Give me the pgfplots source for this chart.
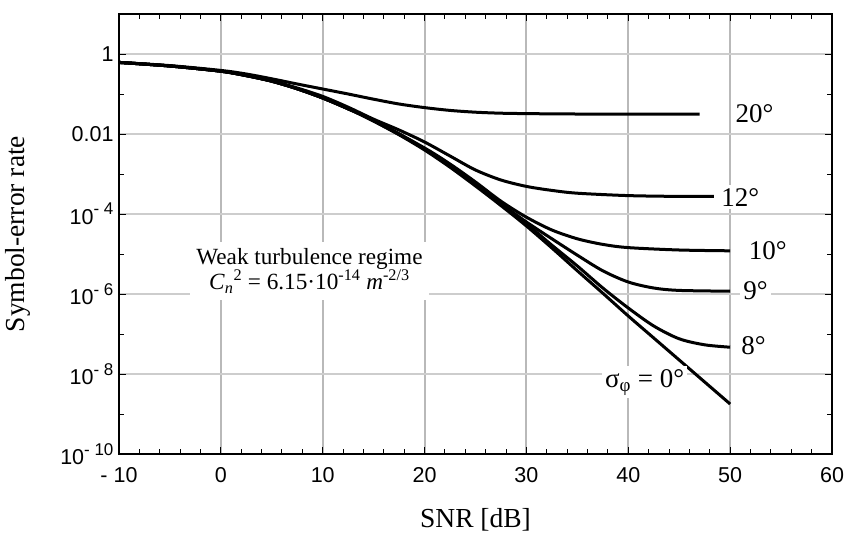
\documentclass[border=0pt]{standalone}
\usepackage{pgfplots}
\pgfplotsset{compat=1.18}
\usepackage{fontspec}
\setmainfont{Liberation Serif}
\setsansfont{Liberation Sans}

\definecolor{vgrid}{RGB}{185,185,185}
\definecolor{hgrid}{RGB}{205,205,205}

\newcommand{\tenexp}[1]{10\raisebox{0.45em}{\fontsize{17}{17}\selectfont #1}}

\begin{document}
\begin{tikzpicture}
\begin{axis}[
    scale only axis,
    width=713pt, height=440pt,
    xmin=-10, xmax=60,
    ymode=log, ymin=1e-10, ymax=10,
    xtick={-10,0,10,20,30,40,50,60},
    xticklabels={- 10,0,10,20,30,40,50,60},
    minor x tick num=4,
    ytick={1e-10,1e-8,1e-6,1e-4,1e-2,1},
    yticklabels={\tenexp{- 10},\tenexp{- 8},\tenexp{- 6},\tenexp{- 4},0.01,1},
    minor ytick={1e-9,1e-7,1e-5,1e-3,1e-1,10},
    tick label style={font=\sffamily\fontsize{21.5}{25}\selectfont},
    xticklabel style={yshift=-10pt},
    yticklabel style={xshift=-2pt},
    major tick length=7pt, minor tick length=5pt,
    tick style={black, line width=1pt},
    axis line style={line width=1.5pt},
    xmajorgrids, ymajorgrids,
    x grid style={vgrid, line width=2pt},
    y grid style={hgrid, line width=1.2pt},
    xlabel={SNR [dB]},
    ylabel={Symbol-error rate},
    label style={font=\fontsize{27.5}{30}\selectfont},
    xlabel style={at={(axis description cs:0.5,-0.15)}, anchor=center},
    ylabel style={at={(axis description cs:-0.142,0.5)}, anchor=center},
    curve/.style={black, line width=3pt, smooth, tension=0.5, mark=none},
]

% sigma = 0
\addplot[curve] coordinates {
(-10,0.6166) (-5,0.5012) (0,0.3715) (2.5,0.2884) (5,0.2089) (7.5,0.1349)
(10,0.07943) (12.5,0.04266) (15,0.02089) (17.5,0.00955) (20,0.003981)
(22.5,1.479e-3) (25,5.012e-4) (27.5,1.622e-4) (30,5.012e-5) (32.5,1.413e-5)
(35,3.802e-6) (37.5,1.047e-6) (40,2.818e-7) (42.5,7.943e-8) (45,2.239e-8)
(47.5,6.31e-9) (50,1.778e-9)
};

% 20 deg
\addplot[curve] coordinates {
(-10,0.6166) (-5,0.5129) (0,0.3890) (2.5,0.3162) (5,0.2399) (7.5,0.1778)
(10,0.1334) (12.5,0.1) (15,0.07413) (17.5,0.05623) (20,0.04571)
(22.5,0.0389) (25,0.03508) (27.5,0.03311) (30,0.03236) (35,0.03162) (47,0.03162)
};

% 12 deg
\addplot[curve] coordinates {
(-10,0.6166) (-5,0.5012) (0,0.3715) (2.5,0.2884) (5,0.2138) (7.5,0.1413)
(10,0.0871) (12.5,0.04677) (15,0.02344) (17.5,0.01259) (20,6.31e-3)
(22.5,2.818e-3) (25,1.259e-3) (27.5,7.079e-4) (30,4.898e-4) (32.5,3.89e-4)
(35,3.311e-4) (40,2.884e-4) (45,2.754e-4) (48.4,2.754e-4)
};

% 10 deg
\addplot[curve] coordinates {
(-10,0.6166) (-5,0.5012) (0,0.3715) (2.5,0.2884) (5,0.2089) (7.5,0.1349)
(10,0.07943) (12.5,0.04266) (15,0.02239) (20,4.467e-3) (22.5,1.778e-3)
(25,6.31e-4) (27.5,2.089e-4) (30,8.318e-5) (32.5,3.981e-5) (35,2.399e-5)
(37.5,1.738e-5) (40,1.445e-5) (45,1.259e-5) (50,1.202e-5)
};

% 9 deg
\addplot[curve] coordinates {
(-10,0.6166) (-5,0.5012) (0,0.3715) (2.5,0.2884) (5,0.2089) (7.5,0.1349)
(10,0.07943) (12.5,0.04266) (15,0.02188) (20,4.266e-3) (25,5.623e-4)
(27.5,1.820e-4) (30,6.31e-5) (32.5,2.399e-5) (35,9.333e-6) (37.5,3.802e-6)
(40,1.995e-6) (42.5,1.413e-6) (45,1.230e-6) (50,1.175e-6)
};

% 8 deg
\addplot[curve] coordinates {
(-10,0.6166) (-5,0.5012) (0,0.3715) (2.5,0.2884) (5,0.2089) (7.5,0.1349)
(10,0.07943) (12.5,0.04266) (15,0.02138) (20,4.169e-3) (25,5.248e-4)
(30,5.623e-5) (32.5,1.660e-5) (35,5.012e-6) (37.5,1.413e-6) (40,4.467e-7)
(42.5,1.585e-7) (45,7.586e-8) (47.5,5.370e-8) (50,4.677e-8)
};

\begin{scope}[every node/.style={fill=white, inner sep=3pt, font=\fontsize{27}{30}\selectfont}]
\node at (axis cs:52.4,3.16e-2) {20°};
\node at (axis cs:51.0,2.63e-4) {12°};
\node at (axis cs:53.7,1.2e-5) {10°};
\node at (axis cs:52.5,1.2e-6) {9°};
\node at (axis cs:52.3,5.1e-8) {8°};
\node at (axis cs:41.6,6.2e-9) {σ\textsubscript{φ} = 0°};
\end{scope}
\node[fill=white, align=center, inner sep=6pt, font=\fontsize{23.2}{24}\selectfont]
  at (axis cs:8.7,3.8e-6)
  {Weak turbulence regime\\
   \textit{C}\textsubscript{\textit{n}}\textsuperscript{2} = 6.15·10\textsuperscript{-14} \textit{m}\textsuperscript{-2/3}};
\end{axis}
\pgfresetboundingbox
\path[use as bounding box] ([xshift=-119pt,yshift=-79pt]current axis.south west)
  rectangle ([xshift=13pt,yshift=14pt]current axis.north east);
\end{tikzpicture}
\end{document}
